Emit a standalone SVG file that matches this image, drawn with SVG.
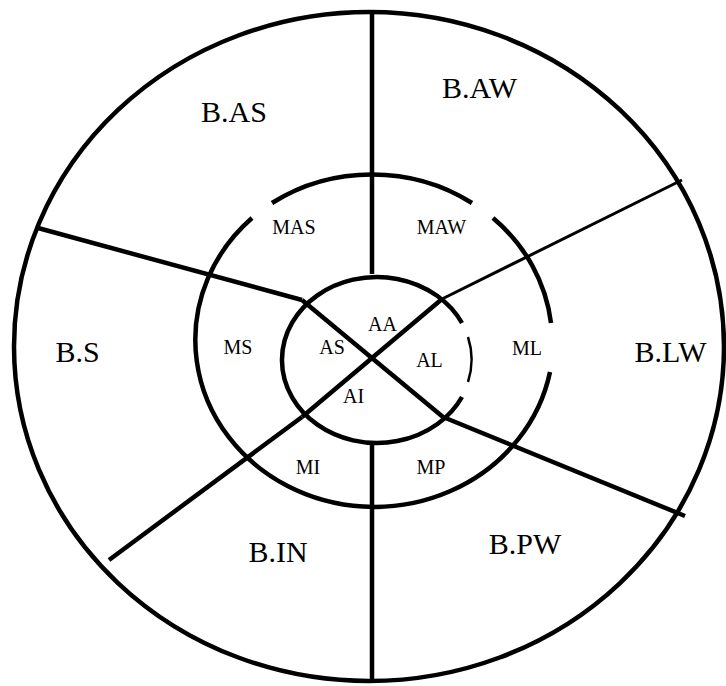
<svg xmlns="http://www.w3.org/2000/svg" width="726" height="686" viewBox="0 0 726 686">
<style>
.ring{fill:none;stroke:#000;stroke-width:4.5}
.thin{fill:none;stroke:#000;stroke-width:2.5}
.ln{stroke:#000;stroke-width:4.5;stroke-linecap:butt}
.lnt{stroke:#000;stroke-width:3}
.big{font-family:"Liberation Serif","Times New Roman",serif;font-size:30px;text-anchor:middle;fill:#000}
.sm{font-family:"Liberation Serif","Times New Roman",serif;font-size:20px;text-anchor:middle;fill:#000}
</style>
<rect width="726" height="686" fill="#fff"/>
<g id="rings">
  <ellipse class="ring" cx="369" cy="346.5" rx="355" ry="334.5"/>
  <path class="ring" d="M272,203 A179,167 0 0 1 472,203"/>
  <path class="ring" d="M493,218 A179,167 0 0 1 551,323"/>
  <path class="ring" d="M550,372 A179,167 0 1 1 252,218"/>
  <path class="ring" d="M462,323 A95,83 0 1 0 462,397"/>
  <path class="thin" d="M468,337 A95,83 0 0 1 468,382"/>
</g>
<g id="connectors">
  <line class="ln" x1="372" y1="12" x2="372" y2="274"/>
  <line class="ln" x1="372" y1="442" x2="372" y2="681"/>
  <line class="ln" x1="38" y1="228" x2="302" y2="300"/>
  <line class="ln" x1="302" y1="300" x2="443" y2="417"/>
  <line class="ln" x1="443" y1="417" x2="685" y2="516"/>
  <line class="lnt" x1="682" y1="180" x2="442" y2="299"/>
  <line class="ln" x1="442" y1="299" x2="302" y2="417"/>
  <line class="ln" x1="302" y1="417" x2="109" y2="560"/>
</g>
<g id="B.AS"><text class="big" x="234" y="122">B.AS</text></g>
<g id="B.AW"><text class="big" x="479.5" y="98">B.AW</text></g>
<g id="B.S"><text class="big" x="77.5" y="362">B.S</text></g>
<g id="B.LW"><text class="big" x="670.5" y="362">B.LW</text></g>
<g id="B.IN"><text class="big" x="278" y="562">B.IN</text></g>
<g id="B.PW"><text class="big" x="525" y="554">B.PW</text></g>
<g id="MAS"><text class="sm" x="294" y="234">MAS</text></g>
<g id="MAW"><text class="sm" x="441.5" y="234">MAW</text></g>
<g id="MS"><text class="sm" x="238" y="354">MS</text></g>
<g id="ML"><text class="sm" x="527" y="355">ML</text></g>
<g id="MI"><text class="sm" x="308" y="474">MI</text></g>
<g id="MP"><text class="sm" x="431" y="474">MP</text></g>
<g id="AA"><text class="sm" x="382.5" y="331">AA</text></g>
<g id="AS"><text class="sm" x="332" y="354">AS</text></g>
<g id="AL"><text class="sm" x="429.5" y="367">AL</text></g>
<g id="AI"><text class="sm" x="353.5" y="403">AI</text></g>
</svg>
